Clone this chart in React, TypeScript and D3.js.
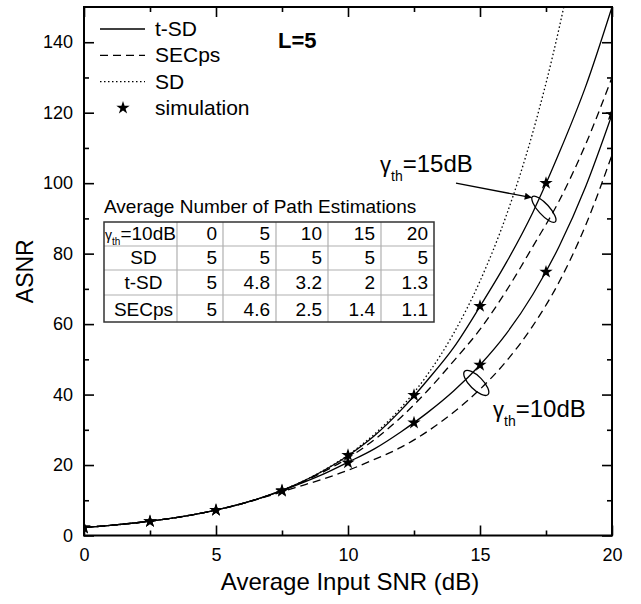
import React, { useEffect, useRef } from 'react';
import * as d3 from 'd3';

// ASNR vs average input SNR, L = 5
const snrDb = [0, 1, 2, 3, 4, 5, 6, 7, 8, 9, 10, 11, 12, 13, 14, 15, 16, 17, 18, 19, 20];
const sdAsnr = [2.28, 2.87, 3.62, 4.56, 5.74, 7.22, 9.09, 11.44, 14.41, 18.14, 22.83, 28.75, 36.19, 45.55, 57.35, 72.2, 90.9, 114.4, 144.1, 181.3, 228.3];
const tsd15 = [2.28, 2.87, 3.62, 4.56, 5.74, 7.22, 9.09, 11.44, 14.4, 18.1, 22.65, 28.3, 35.5, 44.0, 53.3, 65.0, 77.5, 91.7, 108.6, 127.4, 150.0];
const secps15 = [2.28, 2.87, 3.62, 4.56, 5.74, 7.22, 9.08, 11.42, 14.3, 17.8, 22.0, 27.2, 33.5, 41.0, 49.5, 58.5, 69.5, 82.0, 95.0, 111.0, 130.0];
const tsd10 = [2.28, 2.87, 3.62, 4.56, 5.74, 7.22, 9.07, 11.38, 14.15, 17.2, 20.8, 24.6, 29.4, 34.8, 41.0, 48.4, 57.3, 68.4, 82.1, 99.0, 119.5];
const secps10 = [2.28, 2.87, 3.62, 4.56, 5.74, 7.21, 9.03, 11.25, 13.6, 15.9, 18.5, 21.6, 25.0, 29.5, 35.0, 41.5, 49.5, 59.5, 72.0, 88.0, 108.0];

// simulation points
const simSnr = [0, 2.5, 5, 7.5, 10, 12.5, 15, 17.5, 20];
const simTsd15 = [2.2, 4.0, 7.2, 12.8, 22.8, 39.8, 65.1, 100.0];
const simTsd10 = [2.2, 4.0, 7.2, 12.6, 20.7, 32.0, 48.4, 74.8, 119.5];

const xTicks = [0, 5, 10, 15, 20];
const xMinor = [2.5, 7.5, 12.5, 17.5];
const yTicks = [0, 20, 40, 60, 80, 100, 120, 140];
const yMinor = [10, 30, 50, 70, 90, 110, 130];

const legendLabels = ['t-SD', 'SECps', 'SD', 'simulation'];

const tableTitle = 'Average Number of Path Estimations';
const tableHeader = ['0', '5', '10', '15', '20'];
const tableRows = [
  ['SD', '5', '5', '5', '5', '5'],
  ['t-SD', '5', '4.8', '3.2', '2', '1.3'],
  ['SECps', '5', '4.6', '2.5', '1.4', '1.1'],
];

const FONT = 'Arial, "Liberation Sans", Helvetica, sans-serif';

const App = () => {
  const svgRef = useRef<SVGSVGElement>(null);

  useEffect(() => {
    drawChart();
  }, []);

  const drawChart = () => {
    const svg = d3.select(svgRef.current);
    svg.selectAll('*').remove();
    svg.attr('font-family', FONT);

    const left = 84, right = 612, top = 7, bottom = 535.5;

    const x = d3.scaleLinear().domain([0, 20]).range([left, right]);
    const y = d3.scaleLinear().domain([0, 150]).range([bottom, top]);

    const defs = svg.append('defs');
    defs.append('clipPath').attr('id', 'plot-clip')
      .append('rect')
      .attr('x', left).attr('y', top)
      .attr('width', right - left).attr('height', bottom - top);
    defs.append('marker')
      .attr('id', 'arrow-head')
      .attr('viewBox', '0 0 10 10')
      .attr('refX', 10).attr('refY', 5)
      .attr('markerWidth', 14).attr('markerHeight', 7)
      .attr('markerUnits', 'userSpaceOnUse')
      .attr('orient', 'auto')
      .append('path')
      .attr('d', 'M0,0L10,5L0,10Z')
      .attr('fill', '#000');

    const plot = svg.append('g').attr('clip-path', 'url(#plot-clip)');

    const line = d3.line<number>()
      .x((d, i) => x(snrDb[i]))
      .y(d => y(d))
      .curve(d3.curveMonotoneX);

    const curves = [
      { values: sdAsnr, dash: '1.5,2.5' },
      { values: secps15, dash: '8,5' },
      { values: secps10, dash: '8,5' },
      { values: tsd15, dash: null },
      { values: tsd10, dash: null },
    ];

    curves.forEach(c => {
      plot.append('path')
        .datum(c.values)
        .attr('fill', 'none')
        .attr('stroke', '#000')
        .attr('stroke-width', 1.3)
        .attr('stroke-dasharray', c.dash)
        .attr('d', line);
    });

    const star = d3.symbol(d3.symbolStar, 55);
    const simPoints = [
      ...simTsd15.map((v, i) => [simSnr[i], v]),
      ...simTsd10.map((v, i) => [simSnr[i], v]),
    ];
    plot.selectAll('.sim')
      .data(simPoints)
      .enter()
      .append('path')
      .attr('class', 'sim')
      .attr('transform', d => `translate(${x(d[0])},${y(d[1])})`)
      .attr('d', star)
      .attr('fill', '#000');

    // axes, ticks pointing inwards on all four sides
    const styleAxis = (g, withLabels) => {
      g.select('.domain').remove();
      g.selectAll('line').attr('stroke', '#000').attr('stroke-width', 1.6);
      g.attr('font-family', FONT).attr('font-size', 18);
      g.selectAll('text').attr('fill', '#000');
      if (!withLabels) g.selectAll('text').remove();
    };

    svg.append('g').attr('transform', `translate(0,${bottom})`)
      .call(d3.axisBottom(x).tickValues(xTicks).tickSize(-10).tickPadding(13).tickFormat(d3.format('d')))
      .call(g => styleAxis(g, true));
    svg.append('g').attr('transform', `translate(0,${bottom})`)
      .call(d3.axisBottom(x).tickValues(xMinor).tickSize(-5))
      .call(g => styleAxis(g, false));
    svg.append('g').attr('transform', `translate(0,${top})`)
      .call(d3.axisTop(x).tickValues(xTicks).tickSize(-10))
      .call(g => styleAxis(g, false));
    svg.append('g').attr('transform', `translate(0,${top})`)
      .call(d3.axisTop(x).tickValues(xMinor).tickSize(-5))
      .call(g => styleAxis(g, false));

    svg.append('g').attr('transform', `translate(${left},0)`)
      .call(d3.axisLeft(y).tickValues(yTicks).tickSize(-10).tickPadding(11).tickFormat(d3.format('d')))
      .call(g => styleAxis(g, true));
    svg.append('g').attr('transform', `translate(${left},0)`)
      .call(d3.axisLeft(y).tickValues(yMinor).tickSize(-5))
      .call(g => styleAxis(g, false));
    svg.append('g').attr('transform', `translate(${right},0)`)
      .call(d3.axisRight(y).tickValues(yTicks).tickSize(-10))
      .call(g => styleAxis(g, false));
    svg.append('g').attr('transform', `translate(${right},0)`)
      .call(d3.axisRight(y).tickValues(yMinor).tickSize(-5))
      .call(g => styleAxis(g, false));

    svg.append('rect')
      .attr('x', left).attr('y', top)
      .attr('width', right - left).attr('height', bottom - top)
      .attr('fill', 'none')
      .attr('stroke', '#000')
      .attr('stroke-width', 2);

    // axis titles
    svg.append('text')
      .attr('x', (left + right) / 2 + 2)
      .attr('y', 590)
      .attr('text-anchor', 'middle')
      .attr('font-size', 24)
      .text('Average Input SNR (dB)');

    svg.append('text')
      .attr('transform', `translate(33,${(top + bottom) / 2}) rotate(-90)`)
      .attr('text-anchor', 'middle')
      .attr('font-size', 23)
      .text('ASNR');

    // legend
    const legend = svg.append('g');
    const legendDash = [null, '8,5', '1.5,2.5'];
    legendLabels.forEach((label, i) => {
      const ly = 29 + i * 26.3;
      if (i < 3) {
        legend.append('line')
          .attr('x1', 100).attr('x2', 145)
          .attr('y1', ly).attr('y2', ly)
          .attr('stroke', '#000')
          .attr('stroke-width', 1.3)
          .attr('stroke-dasharray', legendDash[i]);
      } else {
        legend.append('path')
          .attr('transform', `translate(123,${ly})`)
          .attr('d', star)
          .attr('fill', '#000');
      }
      legend.append('text')
        .attr('x', 155)
        .attr('y', ly + 7)
        .attr('font-size', 21)
        .text(label);
    });

    svg.append('text')
      .attr('x', 278)
      .attr('y', 48)
      .attr('font-size', 22)
      .attr('font-weight', 'bold')
      .text('L=5');

    // threshold annotations
    const thLabel = (px, py, txt) => {
      const t = svg.append('text').attr('x', px).attr('y', py);
      t.append('tspan').attr('font-size', 22).text('γ');
      t.append('tspan').attr('font-size', 14).attr('dy', 9).text('th');
      t.append('tspan').attr('font-size', 24).attr('dy', -9).text(txt);
    };
    thLabel(380, 172, '=15dB');
    thLabel(493, 417, '=10dB');

    svg.append('line')
      .attr('x1', x(14.09)).attr('y1', y(100))
      .attr('x2', x(16.96)).attr('y2', y(95.9))
      .attr('stroke', '#000')
      .attr('stroke-width', 1.3)
      .attr('marker-end', 'url(#arrow-head)');

    svg.append('ellipse')
      .attr('transform', `translate(${x(17.42)},${y(92.6)}) rotate(48)`)
      .attr('rx', 17).attr('ry', 5.5)
      .attr('fill', 'none').attr('stroke', '#000').attr('stroke-width', 1.3);
    svg.append('ellipse')
      .attr('transform', `translate(${x(14.86)},${y(43.3)}) rotate(45)`)
      .attr('rx', 16.5).attr('ry', 6.5)
      .attr('fill', 'none').attr('stroke', '#000').attr('stroke-width', 1.3);

    // table of average number of path estimations
    const colEdges = [104, 177, 223, 276, 328, 381, 434];
    const rowEdges = [222, 246, 270, 295, 322];
    const table = svg.append('g').attr('font-size', 19);

    table.append('text')
      .attr('x', 104).attr('y', 213)
      .text(tableTitle);

    table.append('rect')
      .attr('x', colEdges[0]).attr('y', rowEdges[0])
      .attr('width', colEdges[6] - colEdges[0])
      .attr('height', rowEdges[4] - rowEdges[0])
      .attr('fill', '#fff');

    colEdges.slice(1, -1).forEach(cx => {
      table.append('line')
        .attr('x1', cx).attr('x2', cx)
        .attr('y1', rowEdges[0]).attr('y2', rowEdges[4])
        .attr('stroke', '#b0b0b0').attr('stroke-width', 1.2);
    });
    rowEdges.slice(1, -1).forEach(ry => {
      table.append('line')
        .attr('x1', colEdges[0]).attr('x2', colEdges[6])
        .attr('y1', ry).attr('y2', ry)
        .attr('stroke', '#b0b0b0').attr('stroke-width', 1.2);
    });
    table.append('rect')
      .attr('x', colEdges[0]).attr('y', rowEdges[0])
      .attr('width', colEdges[6] - colEdges[0])
      .attr('height', rowEdges[4] - rowEdges[0])
      .attr('fill', 'none')
      .attr('stroke', '#333').attr('stroke-width', 1.5);

    const firstColMid = (colEdges[0] + colEdges[1]) / 2;
    const head = table.append('text')
      .attr('x', firstColMid).attr('y', rowEdges[1] - 6)
      .attr('text-anchor', 'middle');
    head.append('tspan').attr('font-size', 14).text('γ');
    head.append('tspan').attr('font-size', 10).attr('dy', 5).text('th');
    head.append('tspan').attr('dy', -5).text('=10dB');

    tableHeader.forEach((h, j) => {
      table.append('text')
        .attr('x', colEdges[j + 2] - 6)
        .attr('y', rowEdges[1] - 6)
        .attr('text-anchor', 'end')
        .text(h);
    });

    tableRows.forEach((row, i) => {
      const by = rowEdges[i + 2] - 6;
      row.forEach((cell, j) => {
        table.append('text')
          .attr('x', j === 0 ? firstColMid + 3 : colEdges[j + 1] - 6)
          .attr('y', by)
          .attr('text-anchor', j === 0 ? 'middle' : 'end')
          .text(cell);
      });
    });
  };

  return (
    <svg
      ref={svgRef}
      width={641}
      height={604}
      style={{ position: 'absolute', left: 0, top: 0, background: '#fff' }}
    />
  );
};

export default App;
